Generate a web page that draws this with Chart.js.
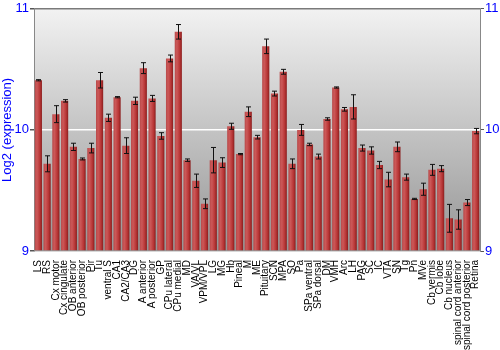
<!DOCTYPE html>
<html>
<head>
<meta charset="utf-8">
<script src="https://cdn.jsdelivr.net/npm/chart.js@4.4.0/dist/chart.umd.min.js"></script>
<style>
  html, body { margin: 0; padding: 0; background: #fff; }
  #wrap { width: 500px; height: 350px; }
</style>
</head>
<body>
<div id="wrap"><canvas id="exprChart"></canvas></div>
<script>
// tissue labels
const tissues = ['LS', 'RS', 'Cx motor', 'Cx cingulate', 'OB anterior', 'OB posterior', 'Pir', 'Tu',
  'ventral S', 'CA1', 'CA2/CA3', 'DG', 'A anterior', 'A posterior', 'GP', 'CPu lateral', 'CPu medial',
  'MD', 'VA/VL', 'VPM/VPL', 'LG', 'MG', 'Hb', 'Pineal', 'M', 'ME', 'Pituitary', 'SCN', 'MPA', 'SO',
  'Pa', 'SPa ventral', 'SPa dorsal', 'DM', 'VMH', 'Arc', 'LH', 'PAG', 'SC', 'IC', 'VTA', 'SN', 'Tg',
  'Pn', 'MVe', 'Cb vermis', 'Cb lobe', 'Cb nucleus', 'spinal cord anterior', 'spinal cord posterior', 'Retina'];

// log2 expression
const expression = [10.41, 9.72, 10.13, 10.24, 9.86, 9.76, 9.85, 10.41,
  10.10, 10.27, 9.87, 10.24, 10.51, 10.26, 9.95, 10.59, 10.81,
  9.75, 9.58, 9.39, 9.75, 9.73, 10.03, 9.80, 10.15, 9.94, 10.69, 10.30, 10.48, 9.72,
  10.00, 9.88, 9.78, 10.09, 10.35, 10.17, 10.19, 9.85, 9.83, 9.71, 9.59, 9.86, 9.61,
  9.43, 9.51, 9.67, 9.68, 9.27, 9.26, 9.40, 9.99];

// standard error
const stdErr = [0.005, 0.066, 0.07, 0.01, 0.03, 0.008, 0.04, 0.064,
  0.03, 0.005, 0.065, 0.03, 0.045, 0.025, 0.027, 0.028, 0.06,
  0.01, 0.055, 0.04, 0.105, 0.04, 0.025, 0.005, 0.04, 0.015, 0.06, 0.02, 0.02, 0.04,
  0.045, 0.01, 0.02, 0.01, 0.005, 0.015, 0.1, 0.025, 0.03, 0.03, 0.06, 0.04, 0.025,
  0.005, 0.05, 0.045, 0.025, 0.115, 0.08, 0.025, 0.022];

const yTicks = [9, 10, 11];

// gray gradient behind the plot
const plotBackground = {
  id: 'plotBackground',
  beforeDraw(chart) {
    const { ctx, chartArea: a } = chart;
    const g = ctx.createLinearGradient(0, a.top, 0, a.bottom);
    g.addColorStop(0, '#f2f2f2');
    g.addColorStop(1, '#959595');
    ctx.save();
    ctx.fillStyle = g;
    ctx.fillRect(a.left, a.top, a.right - a.left, a.bottom - a.top);
    ctx.restore();
  }
};

// error bars on top of the columns
const errorBars = {
  id: 'errorBars',
  afterDatasetsDraw(chart) {
    const { ctx } = chart;
    const y = chart.scales.y;
    const meta = chart.getDatasetMeta(0);
    ctx.save();
    ctx.strokeStyle = '#111';
    ctx.lineWidth = 1;
    meta.data.forEach(function (bar, i) {
      const x = Math.round(bar.x) + 0.5;
      const top = y.getPixelForValue(expression[i] + stdErr[i]);
      const bot = y.getPixelForValue(expression[i] - stdErr[i]);
      ctx.beginPath();
      ctx.moveTo(x, top);
      ctx.lineTo(x, bot);
      ctx.moveTo(x - 2.5, top);
      ctx.lineTo(x + 2.5, top);
      ctx.moveTo(x - 2.5, bot);
      ctx.lineTo(x + 2.5, bot);
      ctx.stroke();
    });
    ctx.restore();
  }
};

function barFill(context) {
  const chart = context.chart;
  const el = chart.getDatasetMeta(0).data[context.dataIndex];
  if (!el || !el.width) return '#b53838';
  const g = chart.ctx.createLinearGradient(el.x - el.width / 2, 0, el.x + el.width / 2, 0);
  g.addColorStop(0, '#b84a4a');
  g.addColorStop(0.3, '#cc5858');
  g.addColorStop(0.7, '#b83636');
  g.addColorStop(1, '#8a1e1e');
  return g;
}

const blue = '#0000ff';
const fontFamily = '"Liberation Sans", Arial, sans-serif';

const chart = new Chart(document.getElementById('exprChart'), {
  type: 'bar',
  data: {
    labels: tissues,
    datasets: [{
      data: expression,
      base: 9,
      backgroundColor: barFill,
      borderWidth: 0,
      barPercentage: 0.82,
      categoryPercentage: 1
    }]
  },
  options: {
    responsive: true,
    maintainAspectRatio: false,
    animation: false,
    layout: { padding: { top: 2, right: 0, bottom: 0, left: 0 } },
    plugins: {
      legend: { display: false },
      tooltip: { enabled: false }
    },
    scales: {
      x: {
        grid: { display: false },
        border: { color: '#d8d8d8' },
        ticks: {
          autoSkip: false,
          maxRotation: 90,
          minRotation: 90,
          padding: 1,
          color: '#000',
          font: { family: fontFamily, size: 10 }
        },
        afterFit(scale) { scale.height = 99; }
      },
      y: {
        position: 'left',
        min: 9,
        max: 11,
        afterBuildTicks(scale) { scale.ticks = yTicks.map(v => ({ value: v })); },
        grid: {
          color: function (c) {
            if (c.tick && c.tick.value === 10) return '#ffffff';
            if (c.tick && c.tick.value === 11) return '#7a7a7a';
            return 'rgba(0,0,0,0)';
          },
          tickColor: '#555',
          tickLength: 4,
          lineWidth: 1.5
        },
        border: { color: '#888' },
        ticks: { color: blue, padding: 1, font: { family: fontFamily, size: 13 } },
        title: {
          display: true,
          text: 'Log2 (expression)',
          color: blue,
          padding: 0,
          font: { family: fontFamily, size: 13 }
        },
        afterFit(scale) { scale.width = 34; }
      },
      y2: {
        position: 'right',
        min: 9,
        max: 11,
        afterBuildTicks(scale) { scale.ticks = yTicks.map(v => ({ value: v })); },
        grid: { drawOnChartArea: false, tickColor: '#555', tickLength: 4 },
        border: { color: '#888' },
        ticks: { color: blue, padding: 1, font: { family: fontFamily, size: 13 } },
        afterFit(scale) { scale.width = 20; }
      }
    }
  },
  plugins: [plotBackground, errorBars]
});
chart.update();
</script>
</body>
</html>
